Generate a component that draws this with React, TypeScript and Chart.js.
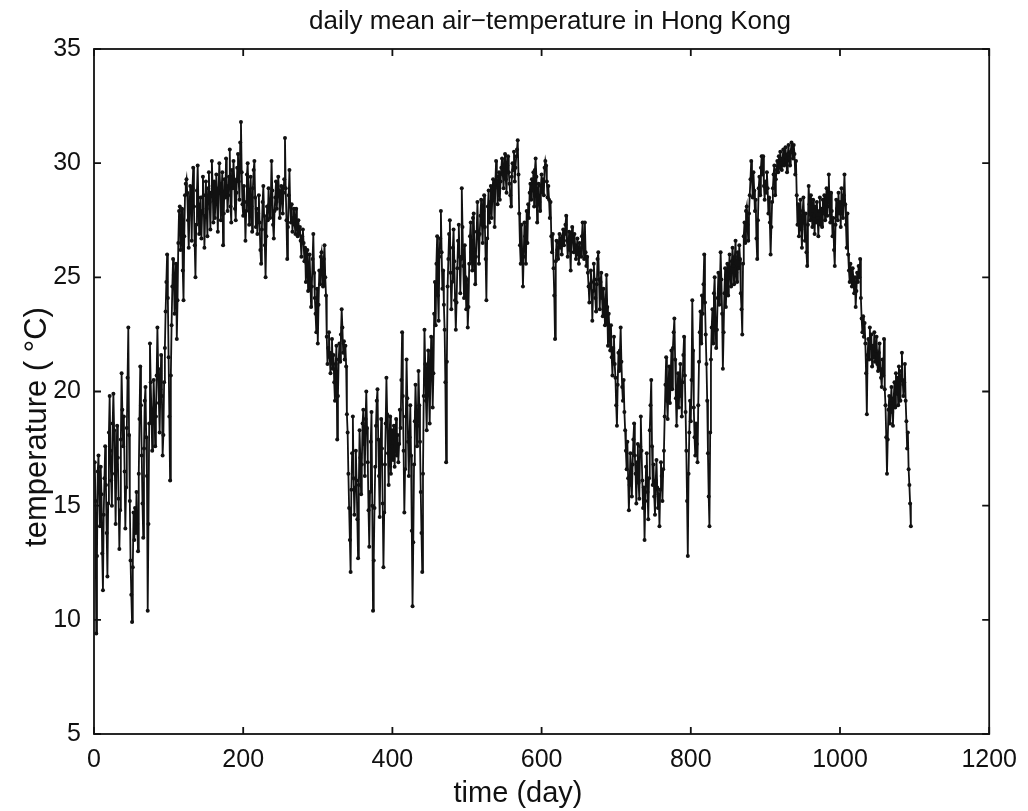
import React, { useEffect, useRef } from "react";
import { Chart, registerables } from "chart.js";

Chart.register(...registerables);

const TITLE = "daily mean air\u2212temperature in Hong Kong";
const X_LABEL = "time (day)";
const Y_LABEL = "temperature ( \u00B0C)";
const X_TICKS = [0, 200, 400, 600, 800, 1000, 1200];
const Y_TICKS = [5, 10, 15, 20, 25, 30, 35];

// daily mean temperature (°C), days 1-365
const tempYear1 = [
  16.9, 15.2, 9.4, 12.8, 16.5, 17.2, 15.8, 14.1, 16.7, 15.5,
  12.9, 11.3, 14.6, 16.2, 17.6, 15.9, 13.8, 11.9, 15.1, 18.2,
  19.8, 17.4, 16.1, 15.0, 18.6, 19.9, 18.3, 16.4, 14.2, 16.8,
  18.5, 17.1, 15.3, 13.1, 14.8, 17.9, 20.8, 19.2, 17.6, 18.9,
  16.5, 14.0, 15.8, 18.4, 20.6, 22.8, 18.1, 15.2, 12.6, 11.1,
  9.9, 12.3, 14.7, 13.5, 14.9, 13.8, 15.6, 14.2, 13.0, 16.4,
  18.8, 21.1, 19.4, 17.2, 15.1, 13.6, 17.5, 19.6, 20.2, 18.0,
  16.3, 10.4, 14.2, 18.6, 22.1, 20.4, 19.1, 17.4, 18.7, 20.5,
  19.3, 17.6, 18.9, 20.7, 22.8, 21.0, 19.5, 18.2, 20.1, 21.6,
  19.8, 17.2, 18.1, 20.4, 21.9, 23.5, 24.8, 26.0, 24.1, 21.5,
  18.9, 16.1, 20.7, 22.9, 24.6, 25.8, 25.1, 23.4, 24.9, 25.6,
  22.3, 24.0, 26.5, 27.9, 28.1, 26.2, 27.4, 28.0, 25.3, 24.0,
  26.8, 28.6, 29.1, 29.3, 28.7, 27.5, 26.3, 27.9, 29.0, 28.4,
  26.6, 28.9, 29.8, 28.1, 26.4, 25.0, 27.3, 28.8, 29.9, 28.2,
  26.9, 27.8, 28.5, 26.7, 27.9, 29.4, 28.6, 26.3, 27.7, 29.2,
  28.0, 26.8, 28.9, 29.6, 28.3, 27.1, 28.7, 30.1, 29.0, 27.4,
  29.2, 27.6, 28.4, 29.5, 28.3, 27.0, 28.9, 30.0, 29.1, 27.5,
  28.8, 29.6, 26.4, 27.8, 29.3, 28.5, 30.2, 29.0, 27.9, 28.6,
  29.4, 30.6, 28.1, 27.4, 29.7, 28.9, 30.1, 29.3, 28.0, 27.5,
  28.7, 29.8, 30.4, 29.2, 28.4, 30.9, 31.8, 29.6, 28.2, 27.7,
  29.0, 28.3, 26.6, 27.9, 29.5, 30.0, 28.8, 27.3, 28.6, 29.4,
  28.1, 27.0, 28.9, 29.7, 30.1, 28.5, 27.2, 28.0, 26.9, 27.8,
  28.6, 27.4, 26.2, 25.6, 27.1, 28.3, 29.0, 27.7, 26.4, 25.0,
  26.8, 28.1, 27.5, 28.9, 28.2, 27.6, 28.4, 30.1, 28.8, 27.3,
  26.7, 27.9, 28.5, 29.2, 28.0, 28.6, 29.4, 28.8, 27.6, 28.3,
  29.0, 28.4, 27.8, 28.7, 29.3, 31.1, 28.9, 27.5, 25.8, 27.2,
  28.6, 29.7, 28.1, 27.4, 28.2, 27.0, 27.6, 28.0, 27.3, 26.9,
  28.0, 27.4, 26.8, 27.5, 26.9, 27.2, 26.6, 25.9, 26.8, 27.1,
  26.5, 25.7, 26.3, 24.8, 25.6, 26.2, 24.4, 25.1, 26.0, 24.9,
  23.7, 24.6, 25.8, 26.9, 25.2, 24.1, 23.4, 22.6, 24.5, 22.1,
  23.8, 25.3, 24.7, 25.9, 26.1, 25.4, 24.6, 25.8, 26.4, 25.0,
  24.2, 22.4, 21.2, 21.9, 22.6, 21.5, 20.8, 21.7, 22.3, 21.0,
  21.6, 20.4, 19.6, 21.2, 22.0, 17.9, 19.8, 21.4, 22.1, 21.3,
  22.5, 23.6, 22.8, 21.7, 22.2, 21.4, 22.0, 21.1, 19.0, 18.2,
  16.4, 14.9, 13.5, 12.1, 15.7, 17.3, 18.9, 16.2, 14.6, 15.8,
  17.4, 16.1, 14.4, 12.7, 15.9, 18.3, 17.1, 15.5, 16.8, 18.6,
  19.2, 17.7, 16.3, 18.8, 20.0,
];

// days 366-730
const tempYear2 = [
  18.4, 16.9, 14.8, 13.2, 15.6, 17.8, 19.1, 15.0, 10.4, 12.6,
  14.9, 16.7, 18.5, 19.6, 20.1, 17.9, 16.3, 14.5, 17.2, 18.8,
  17.5, 15.1, 12.3, 14.7, 16.8, 18.6, 20.6, 19.0, 17.3, 15.9,
  17.8, 18.9, 16.4, 17.6, 18.3, 17.0, 18.5, 16.7, 17.9, 18.8,
  17.2, 18.1, 16.9, 17.7, 19.2, 18.4, 20.5, 22.6, 19.8, 17.4,
  14.7, 16.6, 18.9, 21.4, 19.7, 17.8, 16.3, 18.0, 19.4, 17.2,
  13.9, 10.6, 13.4, 16.8, 18.7, 20.3, 19.1, 17.6, 18.5, 20.9,
  19.4, 17.8, 15.6, 13.8, 12.1, 16.4, 19.8, 22.7, 21.2, 19.6,
  18.3, 20.5, 21.8, 19.9, 18.6, 20.7, 22.4, 21.0, 19.3, 20.8,
  23.4, 24.8, 22.9, 25.6, 26.8, 24.2, 23.1, 25.9, 26.7, 27.9,
  26.1, 24.5, 25.3, 23.8, 22.7, 20.4, 16.9, 21.3, 24.6, 25.8,
  26.9, 27.5, 25.2, 23.6, 24.8, 26.3, 27.1, 25.7, 24.0, 22.7,
  23.9, 25.4, 26.6, 27.3, 25.9, 24.3, 25.8, 28.9, 27.2, 25.5,
  24.1, 26.4, 25.0, 23.6, 24.9, 22.8, 23.7, 25.6, 26.8, 27.4,
  26.1, 25.3, 27.6, 27.8, 26.2, 24.7, 25.9, 27.0, 28.3, 26.8,
  25.6, 26.9, 27.7, 28.4, 27.3, 26.5, 27.9, 28.6, 27.2, 25.8,
  24.0, 26.7, 28.1, 28.8, 27.4, 28.3, 29.0, 27.6, 28.5, 29.3,
  28.7, 27.2, 29.1, 30.1, 29.4, 28.2, 28.9, 29.6, 28.4, 29.2,
  29.8, 30.2, 29.5, 28.9, 29.7, 30.4, 29.3, 28.7, 29.9, 30.3,
  29.6, 29.1, 28.6, 28.1, 29.4, 30.0, 29.7, 30.5, 29.2, 29.8,
  30.3, 30.6, 31.0, 29.5, 27.8, 26.4, 25.6, 27.3, 26.1, 24.6,
  25.9, 27.4, 26.8, 25.6, 27.9, 26.5, 28.2, 27.6, 28.7, 29.1,
  28.4, 29.3, 28.8, 29.6, 28.1, 29.7, 30.2, 29.4, 27.4, 28.6,
  29.1, 28.3, 27.9, 29.0, 29.5, 28.7, 29.3, 28.6, 29.8, 30.1,
  29.9, 29.2, 28.5, 29.0, 28.4, 27.6, 28.3, 26.8, 26.1, 26.9,
  25.4, 24.2, 22.3, 25.7, 26.6, 26.2, 25.8, 26.5, 26.9, 26.3,
  26.7, 26.0, 26.8, 27.1, 26.4, 26.9, 27.3, 27.7, 26.6, 25.9,
  26.5, 27.0, 26.2, 25.3, 26.8, 27.2, 26.6, 26.1, 26.9, 26.4,
  25.8, 26.3, 26.7, 26.0, 25.6, 26.5, 26.2, 25.9, 26.8, 27.4,
  26.6, 25.8, 27.4, 26.1, 25.5, 25.9, 25.2, 24.6, 23.9, 24.7,
  25.3, 24.8, 23.1, 24.4, 25.6, 24.9, 24.1, 23.5, 24.7, 25.8,
  26.1, 24.9, 23.6, 24.8, 25.2, 24.1, 23.3, 24.5, 23.8, 22.9,
  24.0, 25.1, 23.7, 22.0, 23.4, 22.6, 21.8, 22.9, 21.5, 20.7,
  21.9, 22.4, 21.2, 20.6, 19.4, 18.5, 20.3, 21.7, 20.9, 21.8,
  22.8, 21.3, 20.2, 19.6, 20.5, 19.1, 18.3, 17.4, 16.6, 17.8,
  16.2, 14.8, 15.9, 17.3, 16.5, 15.4, 16.8, 17.9, 18.6, 17.2,
  16.4, 15.1, 16.9, 17.7, 16.0,
];

// days 731-1095
const tempYear3 = [
  15.3, 17.6, 18.9, 17.4, 16.1, 14.9, 15.8, 13.5, 15.2, 16.7,
  17.3, 15.6, 14.4, 16.2, 18.3, 19.4, 20.5, 17.6, 15.9, 16.8,
  15.4, 14.6, 16.1, 17.0, 15.8, 14.9, 15.5, 14.1, 15.7, 16.9,
  16.3, 15.2, 16.6, 17.4, 18.9, 20.3, 21.5, 19.6, 18.8, 20.2,
  21.1, 19.5, 20.6, 21.8, 20.1, 21.9, 22.6, 23.2, 21.4, 19.7,
  18.5, 19.9, 20.8, 19.3, 20.5, 21.2, 19.8, 18.9, 20.4, 21.6,
  22.4, 20.7, 19.1, 17.4, 15.2, 12.8, 16.4, 18.2, 19.6, 18.7,
  20.5, 24.0, 21.8, 19.3, 18.0, 17.2, 18.6, 17.7, 16.9, 19.4,
  21.3, 22.6, 23.5, 22.1, 24.2, 23.4, 24.7, 26.0, 23.9, 22.5,
  21.2, 19.6, 17.3, 15.4, 14.1, 18.2, 21.4, 22.8, 23.6, 22.1,
  24.3, 25.0, 23.2, 21.9, 22.7, 24.1, 25.2, 23.8, 24.6, 26.1,
  24.9, 23.4, 21.0, 22.6, 24.3, 25.4, 23.7, 24.8, 25.6, 24.2,
  25.3, 26.0, 25.1, 24.6, 25.7, 26.3, 25.5, 24.7, 25.9, 26.6,
  25.2, 24.8, 26.1, 25.4, 26.4, 25.8, 24.3, 23.6, 22.5, 25.6,
  26.8, 27.4, 26.5, 27.9, 28.1, 27.3, 26.6, 27.8, 28.6, 29.3,
  30.1, 29.4, 28.5, 29.6, 28.8, 27.9, 28.4, 26.7, 25.8, 27.5,
  28.9, 29.4, 28.6, 29.8, 30.3, 29.5, 30.3, 29.0, 28.4, 29.2,
  28.7, 29.6, 28.9, 27.8, 28.5, 27.4, 26.0, 27.2, 28.3, 28.9,
  29.5, 29.9, 28.6, 29.3, 29.7, 30.1, 29.6, 30.3, 29.8, 30.5,
  30.0, 29.7, 30.2, 30.6, 29.9, 30.3, 30.7, 30.1, 29.6, 30.4,
  30.8, 30.2, 29.9, 30.5, 30.9, 30.6, 30.2, 30.8, 30.4, 29.5,
  30.1, 28.6, 27.3, 28.2, 26.8, 27.6, 28.4, 27.1, 26.3, 27.9,
  28.5, 27.4, 26.6, 27.8, 26.1, 25.5, 27.3, 29.0, 28.2, 27.5,
  28.6, 27.9, 27.2, 28.4, 27.7, 26.9, 28.1, 27.4, 28.3, 27.6,
  26.8, 27.9, 28.5, 27.3, 28.0, 27.2, 28.4, 27.8, 28.6, 27.5,
  28.2, 28.9, 27.7, 28.8, 29.5, 28.1, 27.4, 28.7, 27.9, 26.8,
  27.6, 26.2, 25.5, 27.3, 28.4, 28.0, 27.5, 28.7, 27.8, 28.3,
  27.2, 28.9, 28.1, 27.6, 28.6, 29.5, 28.2, 27.3, 26.3, 27.8,
  26.0, 25.3, 24.8, 25.6, 25.1, 24.6, 25.4, 24.9, 24.3, 25.0,
  23.7, 24.4, 25.2, 24.8, 25.5, 25.0, 25.8, 24.1, 23.2, 22.6,
  23.3, 22.4, 23.0, 22.1, 20.8, 19.0, 21.6, 22.3, 21.4, 22.8,
  21.9, 22.5, 21.1, 22.0, 21.5, 22.6, 21.3, 21.8, 22.4, 21.2,
  20.9, 21.7, 22.1, 21.0, 20.6, 20.2, 21.4, 20.7, 22.3, 20.1,
  19.4, 18.0, 16.4, 17.9, 19.2, 19.8, 18.6, 19.5, 20.2, 19.1,
  18.5, 19.7, 20.4, 19.3, 20.8, 19.9, 20.6, 19.4, 21.1, 20.3,
  19.6, 20.9, 21.7, 20.5, 19.8, 20.4, 21.2, 19.6, 18.7, 17.5,
  18.2, 16.6, 15.9, 15.1, 14.1,
];

const dailyTemps = [...tempYear1, ...tempYear2, ...tempYear3];
const series = dailyTemps.map((t, i) => ({ x: i + 1, y: t }));

const INK = "#111111";
const FONT_FAMILY = "'Liberation Sans', Arial, Helvetica, sans-serif";
const TICK_SIZE = 25;
const TITLE_SIZE = 26;
const LABEL_SIZE = 29;
const Y_LABEL_SIZE = 31;

// Box frame with inward ticks on all four sides, plus title and axis labels
const frameAndLabels = {
  id: "frameAndLabels",
  afterDraw(chart: any) {
    const { ctx, chartArea, scales } = chart;
    const { left, right, top, bottom } = chartArea;
    const tickLen = 7;
    ctx.save();
    ctx.strokeStyle = INK;
    ctx.lineWidth = 1.8;
    ctx.strokeRect(left, top, right - left, bottom - top);
    ctx.beginPath();
    for (const v of X_TICKS) {
      const px = scales.x.getPixelForValue(v);
      ctx.moveTo(px, bottom);
      ctx.lineTo(px, bottom - tickLen);
      ctx.moveTo(px, top);
      ctx.lineTo(px, top + tickLen);
    }
    for (const v of Y_TICKS) {
      const py = scales.y.getPixelForValue(v);
      ctx.moveTo(left, py);
      ctx.lineTo(left + tickLen, py);
      ctx.moveTo(right, py);
      ctx.lineTo(right - tickLen, py);
    }
    ctx.stroke();

    ctx.fillStyle = INK;
    ctx.textAlign = "center";
    ctx.textBaseline = "alphabetic";
    ctx.font = `${TITLE_SIZE}px ${FONT_FAMILY}`;
    ctx.fillText(TITLE, 550, 29);
    ctx.font = `${LABEL_SIZE}px ${FONT_FAMILY}`;
    ctx.fillText(X_LABEL, 518, 802);

    ctx.font = `${Y_LABEL_SIZE}px ${FONT_FAMILY}`;
    ctx.translate(46, 427);
    ctx.rotate(-Math.PI / 2);
    ctx.fillText(Y_LABEL, 0, 0);
    ctx.restore();
  },
};

export default function App() {
  const canvasRef = useRef<HTMLCanvasElement | null>(null);

  useEffect(() => {
    const canvas = canvasRef.current;
    if (!canvas) return;
    const tickFont = { family: FONT_FAMILY, size: TICK_SIZE };
    const chart = new Chart(canvas, {
      type: "line",
      data: {
        datasets: [
          {
            data: series,
            borderColor: INK,
            borderWidth: 1.8,
            pointRadius: 2,
            pointBackgroundColor: INK,
            pointBorderWidth: 0,
            pointHoverRadius: 0,
            tension: 0,
          },
        ],
      },
      options: {
        animation: false,
        responsive: false,
        events: [],
        layout: { padding: { top: 49, right: 38, bottom: 0, left: 0 } },
        plugins: {
          legend: { display: false },
          tooltip: { enabled: false },
          title: { display: false },
        },
        scales: {
          x: {
            type: "linear",
            min: 0,
            max: 1200,
            afterBuildTicks: (scale: any) => {
              scale.ticks = X_TICKS.map((v) => ({ value: v }));
            },
            afterFit: (scale: any) => {
              scale.height = 77;
            },
            ticks: {
              font: tickFont,
              color: INK,
              padding: 11,
              maxRotation: 0,
              autoSkip: false,
              callback: (v: any) => String(v),
            },
            grid: { display: false, drawTicks: false },
            border: { display: false },
          },
          y: {
            type: "linear",
            min: 5,
            max: 35,
            afterBuildTicks: (scale: any) => {
              scale.ticks = Y_TICKS.map((v) => ({ value: v }));
            },
            afterFit: (scale: any) => {
              scale.width = 94;
            },
            ticks: {
              font: tickFont,
              color: INK,
              padding: 13,
              autoSkip: false,
              callback: (v: any) => String(v),
            },
            grid: { display: false, drawTicks: false },
            border: { display: false },
          },
        },
      },
      plugins: [frameAndLabels],
    });
    return () => chart.destroy();
  }, []);

  return (
    <div
      style={{
        position: "absolute",
        left: 0,
        top: 0,
        width: 1028,
        height: 811,
        background: "#ffffff",
      }}
    >
      <canvas ref={canvasRef} width={1028} height={811} />
    </div>
  );
}
